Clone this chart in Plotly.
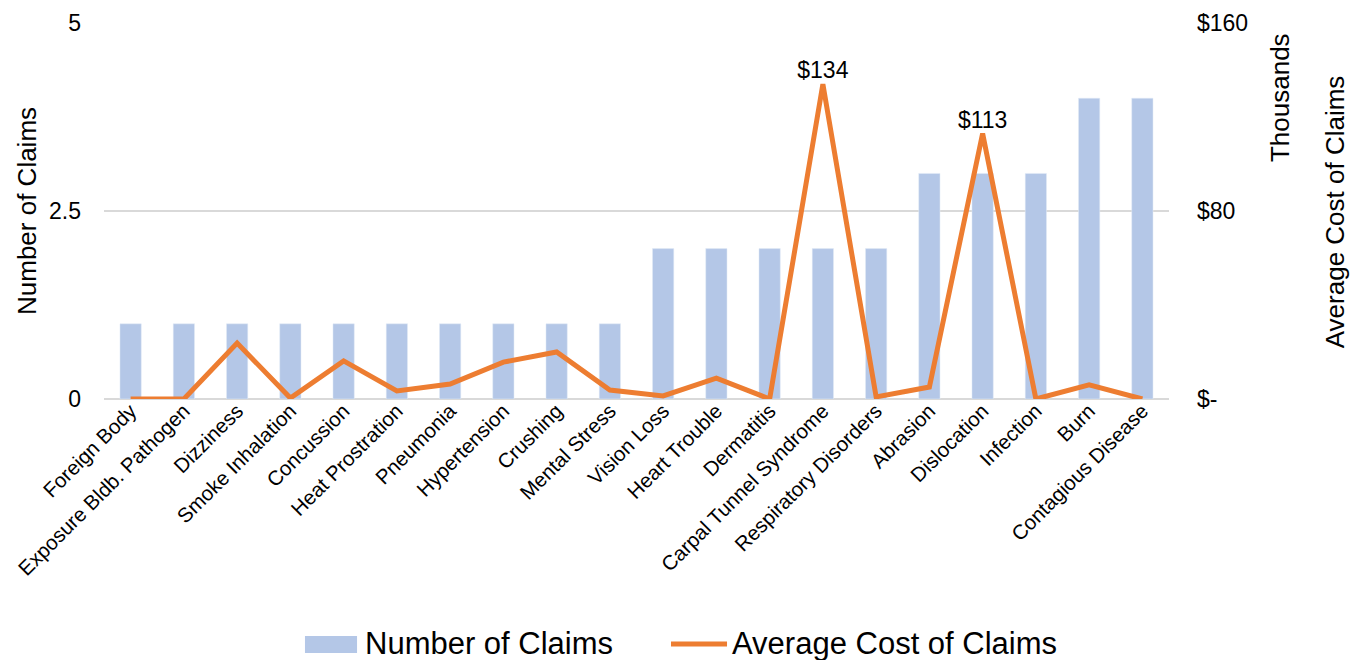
import plotly.graph_objects as go

categories = ["Foreign Body", "Exposure Bldb. Pathogen", "Dizziness", "Smoke Inhalation",
              "Concussion", "Heat Prostration", "Pneumonia", "Hypertension", "Crushing",
              "Mental Stress", "Vision Loss", "Heart Trouble", "Dermatitis",
              "Carpal Tunnel Syndrome", "Respiratory Disorders", "Abrasion", "Dislocation",
              "Infection", "Burn", "Contagious Disease"]
num_claims = [1, 1, 1, 1, 1, 1, 1, 1, 1, 1, 2, 2, 2, 2, 2, 3, 3, 3, 4, 4]
# average cost in thousands of dollars
avg_cost = [0, 0, 23.8, 0.4, 16.2, 3.4, 6.4, 15.7, 20, 3.8, 1.3, 8.9, 0,
            134, 0.9, 5.1, 113, 0, 6, 0]
cost_labels = ["", "", "", "", "", "", "", "", "", "", "", "", "",
               "$134", "", "", "$113", "", "", ""]
left_ticks = [0, 2.5, 5]
right_ticks = [0, 80, 160]
right_ticktext = ["$-", "$80", "$160"]

FONT = "Liberation Sans, Arial, sans-serif"
BAR_COLOR = "#B4C7E7"
LINE_COLOR = "#ED7D31"

fig = go.Figure()
fig.add_trace(go.Bar(x=categories, y=num_claims, name="Number of Claims",
                     marker_color=BAR_COLOR, yaxis="y", showlegend=False))
fig.add_trace(go.Scatter(x=categories, y=avg_cost, name="Average Cost of Claims",
                         mode="lines+text", text=cost_labels, textposition="top center",
                         textfont=dict(size=23, color="#000000"),
                         line=dict(color=LINE_COLOR, width=5), yaxis="y2",
                         showlegend=False))

# legend drawn by hand so the swatches match the original's size
legend_shapes = [
    dict(type="rect", xref="paper", yref="paper", x0=0.1887, x1=0.2376,
         y0=-0.6755, y1=-0.6303, fillcolor=BAR_COLOR, line=dict(width=0)),
    dict(type="line", xref="paper", yref="paper", x0=0.5324, x1=0.5850,
         y0=-0.6516, y1=-0.6516, line=dict(color=LINE_COLOR, width=5)),
]
legend_texts = [
    dict(text="Number of Claims", xref="paper", yref="paper", x=0.2432, y=-0.649,
         xanchor="left", yanchor="middle", showarrow=False, font=dict(size=31)),
    dict(text="Average Cost of Claims", xref="paper", yref="paper", x=0.5878, y=-0.649,
         xanchor="left", yanchor="middle", showarrow=False, font=dict(size=31)),
]

# page body has an 8px margin, so the figure is 8px smaller each way
fig.update_layout(
    width=1353, height=652,
    margin=dict(l=96, r=192, t=15, b=261, autoexpand=False),
    plot_bgcolor="white", paper_bgcolor="white",
    font=dict(family=FONT, color="#000000"),
    bargap=0.6,
    xaxis=dict(range=[-0.5, len(categories) - 0.5], tickangle=-45,
               tickfont=dict(size=20.5), showgrid=False, ticklabelstandoff=-5,
               showline=False, ticks="", automargin=False),
    yaxis=dict(range=[0, 5], tickvals=left_ticks, tickfont=dict(size=23),
               gridcolor="#D9D9D9", gridwidth=2, zeroline=True,
               zerolinecolor="#D9D9D9", zerolinewidth=2, automargin=False,
               ticklabelstandoff=22),
    yaxis2=dict(range=[0, 160], overlaying="y", side="right", tickvals=right_ticks,
                ticktext=right_ticktext, tickfont=dict(size=23), showgrid=False,
                zeroline=False, automargin=False, ticklabelstandoff=27),
    shapes=legend_shapes,
    annotations=[
        dict(text="Number of Claims", xref="paper", yref="paper", x=-0.0723, y=0.5,
             xanchor="center", yanchor="middle", textangle=-90, showarrow=False,
             font=dict(size=26)),
        dict(text="Thousands", xref="paper", yref="paper", x=1.1042, y=0.803,
             xanchor="center", yanchor="middle", textangle=-90, showarrow=False,
             font=dict(size=26)),
        dict(text="Average Cost of Claims", xref="paper", yref="paper", x=1.156, y=0.497,
             xanchor="center", yanchor="middle", textangle=-90, showarrow=False,
             font=dict(size=26)),
    ] + legend_texts,
)

fig.write_html("out.html")
